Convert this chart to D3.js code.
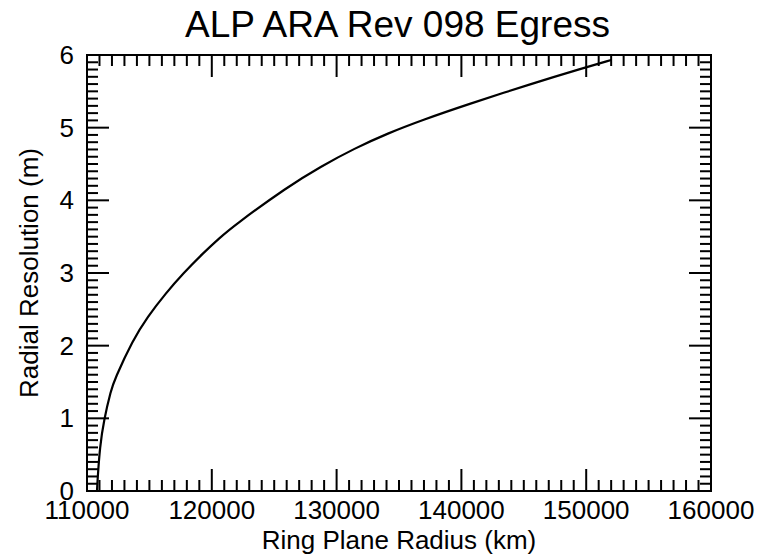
<!DOCTYPE html>
<html>
<head>
<meta charset="utf-8">
<script src="https://cdn.jsdelivr.net/npm/d3@7"></script>
<style>
  html, body { margin: 0; padding: 0; background: #fff; }
  svg { display: block; font-family: "Liberation Sans", Arial, Helvetica, sans-serif; }
</style>
</head>
<body>
<svg id="chart" width="770" height="560"></svg>
<script>
// ---- data ----
const chartTitle = "ALP ARA Rev 098 Egress";
const xLabel = "Ring Plane Radius (km)";
const yLabel = "Radial Resolution (m)";
const xDomain = [110000, 160000];
const yDomain = [0, 6];
const xMajorTicks = [110000, 120000, 130000, 140000, 150000, 160000];
const yMajorTicks = [0, 1, 2, 3, 4, 5, 6];
// curve
const radiusKm = [110801, 110845, 111032, 111353, 111929, 112194, 113668, 114864, 116306, 117716, 119287, 120585, 121843, 126082, 128710, 131450, 134094, 136867, 140353, 145745, 149712, 152003];
const resolutionM = [0.0, 0.151, 0.610, 0.977, 1.390, 1.528, 2.078, 2.399, 2.721, 2.996, 3.271, 3.478, 3.661, 4.188, 4.463, 4.716, 4.922, 5.105, 5.312, 5.611, 5.817, 5.931];

(function () {
  // ---- layout ----
  const svg = d3.select("#chart");
  const mL = 87, mR = 711, mT = 55, mB = 491;
  const x = d3.scaleLinear().domain(xDomain).range([mL, mR]);
  const y = d3.scaleLinear().domain(yDomain).range([mB, mT]);

  const majLen = 22, minLen = 11;
  const xMinor = d3.range(xDomain[0], xDomain[1] + 1, 1000);
  const yMinor = d3.range(0, 61).map(i => i / 10);

  const tickG = svg.append("g").attr("stroke", "#000").attr("stroke-width", 2);
  xMinor.forEach(v => {
    const isMaj = Math.abs(v % 10000) < 1e-6;
    const len = isMaj ? majLen : minLen;
    tickG.append("line").attr("x1", x(v)).attr("x2", x(v)).attr("y1", mB).attr("y2", mB - len);
    tickG.append("line").attr("x1", x(v)).attr("x2", x(v)).attr("y1", mT).attr("y2", mT + len);
  });
  yMinor.forEach(v => {
    const isMaj = Math.abs(v - Math.round(v)) < 1e-6;
    const len = isMaj ? majLen : minLen;
    tickG.append("line").attr("y1", y(v)).attr("y2", y(v)).attr("x1", mL).attr("x2", mL + len);
    tickG.append("line").attr("y1", y(v)).attr("y2", y(v)).attr("x1", mR).attr("x2", mR - len);
  });

  svg.append("rect").attr("x", mL).attr("y", mT).attr("width", mR - mL).attr("height", mB - mT)
    .attr("fill", "none").attr("stroke", "#000").attr("stroke-width", 2);

  const line = d3.line().x((d, i) => x(radiusKm[i])).y(d => y(d)).curve(d3.curveBasis);
  svg.append("path").datum(resolutionM).attr("d", line)
    .attr("fill", "none").attr("stroke", "#000").attr("stroke-width", 2.2)
    .attr("stroke-linejoin", "round");

  svg.append("g").selectAll("text").data(xMajorTicks).join("text")
    .attr("x", d => x(d)).attr("y", 519).attr("text-anchor", "middle")
    .attr("font-size", 26).text(d => d);
  svg.append("g").selectAll("text").data(yMajorTicks).join("text")
    .attr("x", 74).attr("y", d => y(d) + 9).attr("text-anchor", "end")
    .attr("font-size", 26).text(d => d);

  svg.append("text").attr("x", 397.5).attr("y", 37).attr("text-anchor", "middle")
    .attr("font-size", 37).text(chartTitle);
  svg.append("text").attr("x", 399).attr("y", 549).attr("text-anchor", "middle")
    .attr("font-size", 26).text(xLabel);
  svg.append("text").attr("transform", "translate(38,273) rotate(-90)").attr("text-anchor", "middle")
    .attr("font-size", 26).text(yLabel);
})();
</script>
</body>
</html>
